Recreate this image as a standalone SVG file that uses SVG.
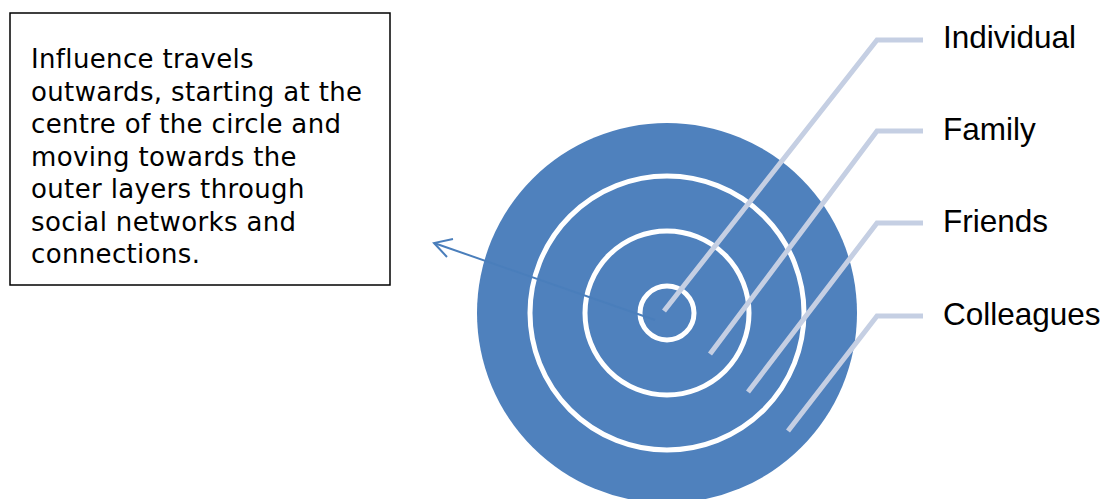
<svg xmlns="http://www.w3.org/2000/svg" width="1106" height="499" viewBox="0 0 1106 499">
  <style>
    .ring { fill: #4F81BD; stroke: #FFFFFF; stroke-width: 5; }
    .lead { fill: none; stroke: #C5CFE3; stroke-width: 5; stroke-linejoin: miter; }
    .lbl { font-family: "Liberation Sans", Arial, sans-serif; font-size: 31.5px; fill: #000000; }
    .note { font-family: "DejaVu Sans", Verdana, sans-serif; font-size: 26px; letter-spacing: 0.35px; fill: #000000; }
    .arrow { fill: none; stroke: #4A7EBB; stroke-width: 2; }
  </style>
  <rect width="1106" height="499" fill="#FFFFFF"/>
  <g id="note-box">
    <rect x="10" y="13" width="380" height="272" fill="#FFFFFF" stroke="#000000" stroke-width="1.5"/>
    <text class="note" x="31">
      <tspan x="31" y="68">Influence travels</tspan>
      <tspan x="31" y="100.5">outwards, starting at the</tspan>
      <tspan x="31" y="133">centre of the circle and</tspan>
      <tspan x="31" y="165.5">moving towards the</tspan>
      <tspan x="31" y="198">outer layers through</tspan>
      <tspan x="31" y="230.5">social networks and</tspan>
      <tspan x="31" y="263">connections.</tspan>
    </text>
  </g>
  <g id="target">
    <circle cx="667" cy="313" r="190" fill="#4F81BD"/>
    <circle class="ring" cx="667" cy="313" r="137"/>
    <circle class="ring" cx="667" cy="313" r="82"/>
    <circle class="ring" cx="667" cy="313" r="27"/>
  </g>
  <g id="connectors">
    <polyline class="lead" points="664,311 877,40 923,40"/>
    <polyline class="lead" points="710,354 877,131 923,131"/>
    <polyline class="lead" points="748,392 877,223 923,223"/>
    <polyline class="lead" points="788,431 877,316 923,316"/>
    <line class="arrow" x1="655" y1="320" x2="434" y2="243"/>
    <polyline class="arrow" points="453,239 434,243 447,257"/>
  </g>
  <g id="label-individual"><text class="lbl" x="943" y="48">Individual</text></g>
  <g id="label-family"><text class="lbl" x="943" y="140">Family</text></g>
  <g id="label-friends"><text class="lbl" x="943" y="232">Friends</text></g>
  <g id="label-colleagues"><text class="lbl" x="943" y="325">Colleagues</text></g>
</svg>
